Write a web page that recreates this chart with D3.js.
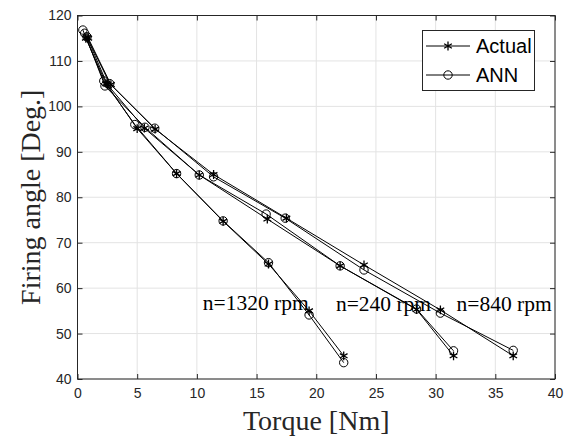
<!DOCTYPE html>
<html>
<head>
<meta charset="utf-8">
<script src="https://cdn.jsdelivr.net/npm/d3@7"></script>
<style>
  body { margin: 0; background: #fff; }
  svg { display: block; }
</style>
</head>
<body>
<svg width="568" height="436"></svg>
<script>
// Torque [Nm] vs firing angle [Deg.], actual and ANN, three speeds
var torque1320Actual = [0.7, 2.4, 5.0, 8.3, 12.2, 16.0, 19.4, 22.3];
var angle1320Actual  = [115, 105, 95.1, 85.2, 74.7, 65.3, 55.0, 45.1];
var torque1320Ann    = [0.45, 2.2, 4.8, 8.3, 12.2, 16.0, 19.4, 22.3];
var angle1320Ann     = [116.8, 105.6, 96.0, 85.2, 74.8, 65.6, 54.1, 43.6];

var torque240Actual = [0.8, 2.5, 5.6, 10.2, 15.9, 22.0, 28.4, 31.5];
var angle240Actual  = [115.2, 104.8, 95.2, 84.9, 75.2, 64.9, 55.3, 45.1];
var torque240Ann    = [0.6, 2.3, 5.65, 10.2, 15.8, 22.0, 28.4, 31.5];
var angle240Ann     = [116.1, 104.5, 95.4, 84.9, 76.3, 64.9, 55.4, 46.2];

var torque840Actual = [0.9, 2.8, 6.5, 11.4, 17.5, 24.0, 30.4, 36.5];
var angle840Actual  = [115.0, 104.8, 95.0, 85.0, 75.4, 65.1, 55.2, 45.1];
var torque840Ann    = [0.8, 2.7, 6.47, 11.4, 17.4, 24.0, 30.4, 36.5];
var angle840Ann     = [115.3, 105.0, 95.2, 84.5, 75.4, 64.0, 54.5, 46.3];

var xTicks = [0, 5, 10, 15, 20, 25, 30, 35, 40];
var yTicks = [40, 50, 60, 70, 80, 90, 100, 110, 120];

var speedLabels = ["n=1320 rpm", "n=240 rpm", "n=840 rpm"];
var speedLabelX = [10.5, 21.65, 31.75];
var speedLabelY = [55.1, 54.9, 54.95];

var legendNames = ["Actual", "ANN"];

// The svg
var svg = d3.select("svg"),
    width = +svg.attr("width"),
    height = +svg.attr("height");

// note: "top" is taken by window.top, so use plot* names
var plotLeft = 77.5, plotRight = 555, plotTop = 15.5, plotBottom = 379;
var axisColor = "#262626";

var x = d3.scaleLinear().domain([0, 40]).range([plotLeft, plotRight]);
var y = d3.scaleLinear().domain([40, 120]).range([plotBottom, plotTop]);

// grid
svg.append("g")
    .selectAll("line")
    .data(xTicks)
    .enter()
    .append("line")
    .attr("x1", function (d) { return x(d); })
    .attr("x2", function (d) { return x(d); })
    .attr("y1", plotTop)
    .attr("y2", plotBottom)
    .style("stroke", "#e3e3e3")
    .style("stroke-width", 1);

svg.append("g")
    .selectAll("line")
    .data(yTicks)
    .enter()
    .append("line")
    .attr("x1", plotLeft)
    .attr("x2", plotRight)
    .attr("y1", function (d) { return y(d); })
    .attr("y2", function (d) { return y(d); })
    .style("stroke", "#e3e3e3")
    .style("stroke-width", 1);

// axes (ticks inward on all four sides, like a boxed matlab plot)
var tickLen = 5;
var font = "'Liberation Sans', Arial, Helvetica, sans-serif";
var serif = "'Liberation Serif', 'Times New Roman', Times, serif";

svg.append("g")
    .attr("transform", "translate(0," + plotBottom + ")")
    .call(d3.axisBottom(x).tickValues(xTicks).tickSize(-tickLen).tickPadding(9))
    .call(function (g) {
        g.select(".domain").remove();
        g.selectAll("line").style("stroke", axisColor);
        g.selectAll("text").style("font-family", font).style("font-size", "14px").style("fill", axisColor);
    });

svg.append("g")
    .attr("transform", "translate(0," + plotTop + ")")
    .call(d3.axisTop(x).tickValues(xTicks).tickSize(-tickLen).tickFormat(""))
    .call(function (g) {
        g.select(".domain").remove();
        g.selectAll("line").style("stroke", axisColor);
    });

svg.append("g")
    .attr("transform", "translate(" + plotLeft + ",0)")
    .call(d3.axisLeft(y).tickValues(yTicks).tickSize(-tickLen).tickPadding(6))
    .call(function (g) {
        g.select(".domain").remove();
        g.selectAll("line").style("stroke", axisColor);
        g.selectAll("text").style("font-family", font).style("font-size", "14px").style("fill", axisColor);
    });

svg.append("g")
    .attr("transform", "translate(" + plotRight + ",0)")
    .call(d3.axisRight(y).tickValues(yTicks).tickSize(-tickLen).tickFormat(""))
    .call(function (g) {
        g.select(".domain").remove();
        g.selectAll("line").style("stroke", axisColor);
    });

svg.append("rect")
    .attr("x", plotLeft)
    .attr("y", plotTop)
    .attr("width", plotRight - plotLeft)
    .attr("height", plotBottom - plotTop)
    .style("fill", "none")
    .style("stroke", axisColor)
    .style("stroke-width", 1);

// series
var series = [
    {t: torque1320Actual, a: angle1320Actual, marker: "star"},
    {t: torque1320Ann, a: angle1320Ann, marker: "circle"},
    {t: torque240Actual, a: angle240Actual, marker: "star"},
    {t: torque240Ann, a: angle240Ann, marker: "circle"},
    {t: torque840Actual, a: angle840Actual, marker: "star"},
    {t: torque840Ann, a: angle840Ann, marker: "circle"}
];

var line = d3.line()
    .x(function (d) { return x(d[0]); })
    .y(function (d) { return y(d[1]); });

var star = d3.symbol().type(d3.symbolAsterisk).size(55);

function drawMarker(g, marker, px, py) {
    if (marker === "circle") {
        g.append("circle")
            .attr("cx", px)
            .attr("cy", py)
            .attr("r", 4.2)
            .style("fill", "none")
            .style("stroke", "#000")
            .style("stroke-width", 1);
    } else {
        g.append("path")
            .attr("d", star())
            .attr("transform", "translate(" + px + "," + py + ")")
            .style("fill", "none")
            .style("stroke", "#000")
            .style("stroke-width", 1.3);
    }
}

var plot = svg.append("g");

series.forEach(function (s) {
    var pts = s.t.map(function (v, i) { return [v, s.a[i]]; });
    plot.append("path")
        .datum(pts)
        .attr("d", line)
        .style("fill", "none")
        .style("stroke", "#000")
        .style("stroke-width", 1);
    pts.forEach(function (p) {
        drawMarker(plot, s.marker, x(p[0]), y(p[1]));
    });
});

// speed labels
svg.append("g")
    .selectAll("text")
    .data(speedLabels)
    .enter()
    .append("text")
    .attr("x", function (d, i) { return x(speedLabelX[i]); })
    .attr("y", function (d, i) { return y(speedLabelY[i]); })
    .style("font-family", serif)
    .style("font-size", "21.5px")
    .style("fill", "#000")
    .text(function (d) { return d; });

// axis titles
svg.append("text")
    .attr("x", (plotLeft + plotRight) / 2)
    .attr("y", 430)
    .attr("text-anchor", "middle")
    .style("font-family", serif)
    .style("font-size", "28px")
    .style("fill", axisColor)
    .text("Torque [Nm]");

svg.append("text")
    .attr("transform", "translate(40," + ((plotTop + plotBottom) / 2) + ") rotate(-90)")
    .attr("text-anchor", "middle")
    .style("font-family", serif)
    .style("font-size", "28px")
    .style("fill", axisColor)
    .text("Firing angle [Deg.]");

// legend
var legend = svg.append("g");
legend.append("rect")
    .attr("x", 422.5)
    .attr("y", 30.5)
    .attr("width", 112)
    .attr("height", 60)
    .style("fill", "#fff")
    .style("stroke", axisColor)
    .style("stroke-width", 1);

legendNames.forEach(function (name, i) {
    var ly = 46 + i * 29;
    legend.append("line")
        .attr("x1", 426)
        .attr("x2", 470)
        .attr("y1", ly)
        .attr("y2", ly)
        .style("stroke", "#000")
        .style("stroke-width", 1);
    drawMarker(legend, i === 0 ? "star" : "circle", 448, ly);
    legend.append("text")
        .attr("x", 476)
        .attr("y", ly + 7)
        .style("font-family", font)
        .style("font-size", "20px")
        .style("fill", "#000")
        .text(name);
});
</script>
</body>
</html>
